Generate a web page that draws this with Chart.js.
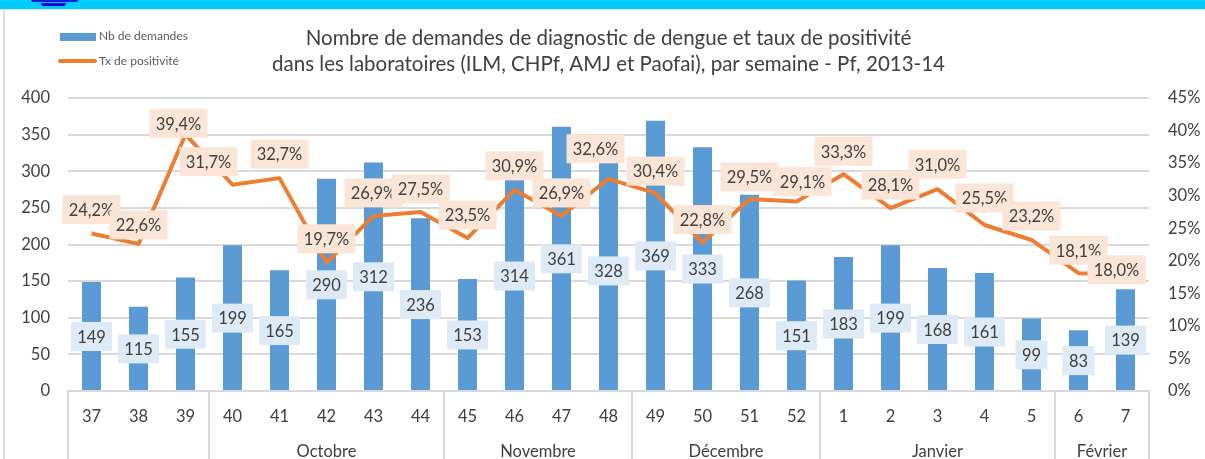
<!DOCTYPE html>
<html><head><meta charset="utf-8">
<script src="https://cdn.jsdelivr.net/npm/chart.js@4"></script>
<style>
html,body{margin:0;padding:0;background:#fff;width:1205px;height:459px;overflow:hidden}
#band{position:absolute;left:0;top:0;width:1205px;height:9px;background:#00CCFF;border-bottom:1px solid #D9DCDD}
#edge{position:absolute;left:3px;top:10px;width:2px;height:449px;background:#DDDDDD}
#logo{position:absolute;left:31px;top:0;width:47px;height:2px;background:#0A1BE0;border-radius:0 0 6px 6px}
#logo2{position:absolute;left:41px;top:3px;width:25px;height:3px;background:#0000E8;border-radius:0 0 12px 12px}
#wrap{position:absolute;left:0;top:0;width:1205px;height:459px}
</style></head><body>
<div id="wrap"><canvas id="c" width="1205" height="459"></canvas></div>
<div id="band"></div><div id="logo"></div><div id="logo2"></div><div id="edge"></div>
<script>
const weeks=['37','38','39','40','41','42','43','44','45','46','47','48','49','50','51','52','1','2','3','4','5','6','7'];
const demandes=[149,115,155,199,165,290,312,236,153,314,361,328,369,333,268,151,183,199,168,161,99,83,139];
const positivite=[24.2,22.6,39.4,31.7,32.7,19.7,26.9,27.5,23.5,30.9,26.9,32.6,30.4,22.8,29.5,29.1,33.3,28.1,31.0,25.5,23.2,18.1,18.0];
const monthNames=['Octobre','Novembre','Décembre','Janvier','Février'];
const monthStarts=[3,8,12,16,21];
const monthEnds=[8,12,16,21,23];
const titleLines=['Nombre de demandes de diagnostic de dengue et taux de positivité','dans les laboratoires (ILM, CHPf, AMJ et Paofai), par semaine - Pf, 2013-14'];
// hand placement of the orange labels relative to their points
const labelDx=[0,0,-7,-24,0,0,0,0,0,0,0,-13,0,0,0,6,0,0,0,0,0,0,-9];
const labelDy=[-24,-19,-11,-23,-24,-24,-23,-23,-23,-24,-23,-30,-22,-23,-22,-20,-23,-23,-25,-27,-24,-23,-4];
const FONT='Lato, Carlito, sans-serif', TXT='#404040', GRID='#D9D9D9';
const PL=68,PR=1149;

function box(ctx,text,x,y,bg){
  ctx.font='16.5px '+FONT;
  const w=58,h=29;
  const W=text.length<5?(text.length<3?32:41):w;
  ctx.fillStyle=bg;ctx.fillRect(x-W/2,y-h/2,W,h);
  ctx.fillStyle=TXT;ctx.textAlign='center';ctx.textBaseline='middle';ctx.fillText(text,x,y+1);
}
const deco={id:'deco',
 afterDatasetsDraw(ch){
  const {ctx,scales:{x,y,y2}}=ch;ctx.save();
  const step=x.getPixelForValue(1)-x.getPixelForValue(0);
  demandes.forEach((v,i)=>box(ctx,String(v),x.getPixelForValue(i),y.getPixelForValue(v/2),'#DEEAF6'));
  positivite.forEach((v,i)=>box(ctx,v.toFixed(1).replace('.',',')+'%',x.getPixelForValue(i)+labelDx[i],y2.getPixelForValue(v)+labelDy[i],'#FBE5D6'));
  // month level of the category axis
  ctx.strokeStyle=GRID;ctx.lineWidth=2;
  const edges=[x.left,...monthStarts.map(i=>x.left+step*i),x.right];
  edges.forEach(e=>{ctx.beginPath();ctx.moveTo(e,y.bottom);ctx.lineTo(e,459);ctx.stroke();});
  ctx.fillStyle=TXT;ctx.font='16.5px '+FONT;ctx.textAlign='center';ctx.textBaseline='middle';
  monthNames.forEach((m,i)=>ctx.fillText(m,x.left+step*(monthStarts[i]+monthEnds[i])/2,452));
  // legend
  ctx.font='12px '+FONT;ctx.textAlign='left';
  ctx.fillStyle='#5B9BD5';ctx.fillRect(60,33,36,8);
  ctx.fillStyle='#595959';ctx.fillText(ch.data.datasets[1].label,99,36.5);
  ctx.strokeStyle='#ED7D31';ctx.lineWidth=4;ctx.lineCap='round';
  ctx.beginPath();ctx.moveTo(60,61);ctx.lineTo(95,61);ctx.stroke();
  ctx.fillStyle='#595959';ctx.fillText(ch.data.datasets[0].label,99,61);
  ctx.restore();
 }};
new Chart(document.getElementById('c'),{
 data:{labels:weeks,datasets:[
  {type:'line',label:'Tx de positivité',data:positivite,yAxisID:'y2',borderColor:'#ED7D31',borderWidth:4,pointRadius:0,tension:0,order:0,borderJoinStyle:'round'},
  {type:'bar',label:'Nb de demandes',data:demandes,yAxisID:'y',backgroundColor:'#5B9BD5',barPercentage:1,categoryPercentage:19/47,order:1}
 ]},
 plugins:[deco],
 options:{responsive:false,animation:false,
  layout:{padding:{left:0,right:0,top:0,bottom:0}},
  plugins:{legend:{display:false},tooltip:{enabled:false},
   title:{display:true,text:titleLines,font:{family:FONT,size:20.5,weight:'normal',lineHeight:1.27},color:TXT,fullSize:false,padding:{top:25,bottom:21}}},
  scales:{
   x:{grid:{display:false},border:{color:GRID,width:2},ticks:{color:TXT,font:{family:FONT,size:16.5},padding:8,maxRotation:0,autoSkip:false},
      afterFit(s){s.height=68;}},
   y:{min:0,max:400,position:'left',grid:{color:GRID,lineWidth:2,drawTicks:false},border:{display:false},
      ticks:{stepSize:50,color:TXT,font:{family:FONT,size:16.5},padding:18},afterFit(s){s.width=PL;}},
   y2:{min:0,max:45,position:'right',grid:{display:false},border:{display:false},
      ticks:{stepSize:5,color:TXT,font:{family:FONT,size:16.5},padding:11,callback:v=>v+'%'},afterFit(s){s.width=1205-PR;}}
  }}
});
</script></body></html>
